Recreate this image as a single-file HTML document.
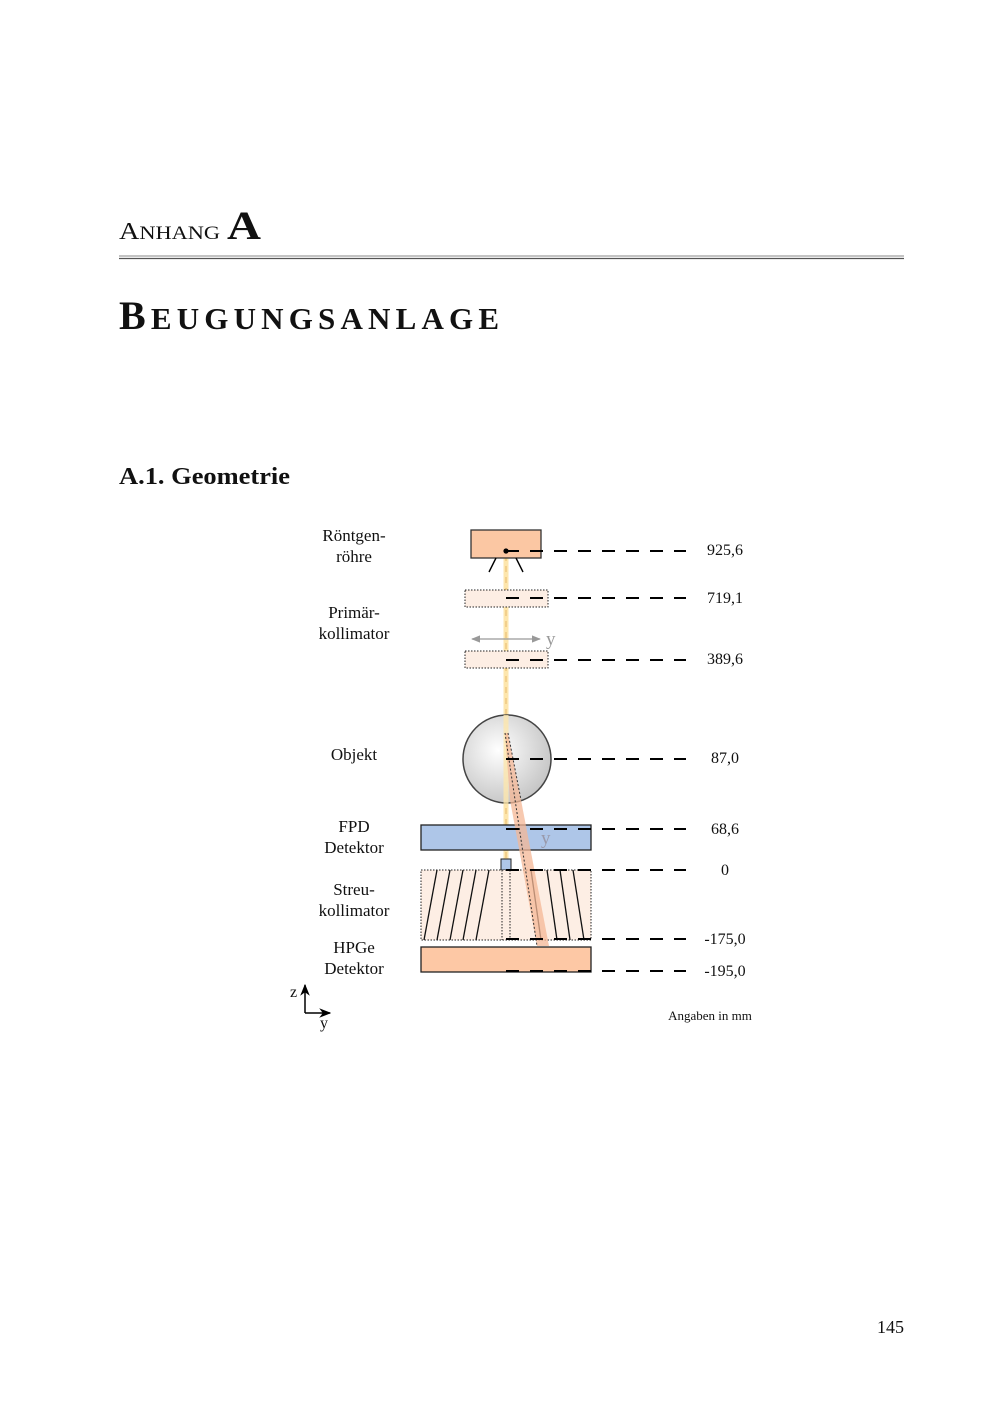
<!DOCTYPE html>
<html><head><meta charset="utf-8"><style>
body{margin:0;background:#fff}
svg{display:block}
text{font-family:"Liberation Serif",serif;fill:#111}
</style></head><body>
<svg width="1000" height="1414" viewBox="0 0 1000 1414">
<defs>
<radialGradient id="g" cx="0.4" cy="0.4" r="0.65"><stop offset="0" stop-color="#ffffff"/><stop offset="1" stop-color="#c4c4c4"/></radialGradient>
<marker id="ah" viewBox="0 0 10 10" refX="9" refY="5" markerWidth="7" markerHeight="7" orient="auto-start-reverse"><path d="M0,1 L10,5 L0,9 z" fill="#999"/></marker>
<marker id="ak" viewBox="0 0 10 10" refX="9" refY="5" markerWidth="8" markerHeight="8" orient="auto"><path d="M0,1 L10,5 L0,9 L3,5 z" fill="#000"/></marker>
</defs>
<text x="119" y="239" font-size="24" textLength="142" lengthAdjust="spacingAndGlyphs">A<tspan font-size="19">NHANG</tspan> <tspan font-size="40" font-weight="bold">A</tspan></text>
<line x1="119" y1="256" x2="904" y2="256" stroke="#888" stroke-width="1"/>
<line x1="119" y1="258.5" x2="904" y2="258.5" stroke="#555" stroke-width="1.2"/>
<text x="119" y="329" font-size="40" font-weight="bold" textLength="380" lengthAdjust="spacing">B<tspan font-size="31">EUGUNGSANLAGE</tspan></text>
<text x="119" y="484" font-size="24" font-weight="bold" textLength="171" lengthAdjust="spacingAndGlyphs">A.1.  Geometrie</text>

<!-- beam -->
<rect x="503.5" y="551" width="5" height="310" fill="#fde6ad"/>
<line x1="506" y1="555" x2="506" y2="860" stroke="#e8b86a" stroke-width="1" stroke-dasharray="6,5"/>
<!-- tube -->
<rect x="471" y="530" width="70" height="28" fill="#fbc7a3" stroke="#333" stroke-width="1.3"/>
<circle cx="506" cy="551" r="2.6" fill="#000"/>
<line x1="496" y1="558" x2="489" y2="572" stroke="#000" stroke-width="1.4"/>
<line x1="516" y1="558" x2="523" y2="572" stroke="#000" stroke-width="1.4"/>
<!-- collimators -->
<rect x="465" y="590" width="83" height="17" fill="#fdeee4" stroke="#222" stroke-dasharray="1.5,1.5"/>
<rect x="465" y="651" width="83" height="17" fill="#fdeee4" stroke="#222" stroke-dasharray="1.5,1.5"/>
<line x1="472" y1="639" x2="540" y2="639" stroke="#999" stroke-width="1.3" marker-start="url(#ah)" marker-end="url(#ah)"/>
<text x="546" y="645" font-size="19" style="fill:#999">y</text>
<!-- sphere -->
<circle cx="507" cy="759" r="44" fill="url(#g)" stroke="#444" stroke-width="1.5"/>
<rect x="503.5" y="715" width="5" height="90" fill="#fde6ad" opacity="0.8"/>
<!-- FPD -->
<rect x="421" y="825" width="170" height="25" fill="#aec6e8" stroke="#222" stroke-width="1.3"/>
<!-- small square -->
<rect x="501" y="859" width="10" height="11" fill="#aec6e8" stroke="#222"/>
<!-- Streu -->
<rect x="421" y="870" width="170" height="70" fill="#fdeee4" stroke="#222" stroke-dasharray="1.5,1.5"/>
<line x1="502" y1="870" x2="502" y2="940" stroke="#222" stroke-dasharray="1.5,1.5"/>
<line x1="510" y1="870" x2="510" y2="940" stroke="#222" stroke-dasharray="1.5,1.5"/>
<g stroke="#111" stroke-width="1.3">
<line x1="437" y1="870" x2="424" y2="940"/>
<line x1="450" y1="870" x2="437" y2="940"/>
<line x1="463" y1="870" x2="450" y2="940"/>
<line x1="476" y1="870" x2="463" y2="940"/>
<line x1="489" y1="870" x2="476" y2="940"/>
<line x1="531" y1="870" x2="541" y2="940"/>
<line x1="547" y1="870" x2="557" y2="940"/>
<line x1="560" y1="870" x2="570" y2="940"/>
<line x1="573" y1="870" x2="584" y2="940"/>
</g>
<!-- HPGe -->
<rect x="421" y="947" width="170" height="25" fill="#fdc8a5" stroke="#222" stroke-width="1.3"/>
<!-- scattered beam -->
<polygon points="505,733 508,733 521,800 549,946 537,946 510,800" fill="#f4b796" opacity="0.75"/>
<line x1="505" y1="733" x2="537" y2="946" stroke="#333" stroke-dasharray="2,2"/>
<line x1="508" y1="733" x2="521" y2="800" stroke="#333" stroke-dasharray="2,2"/>
<text x="541" y="844" font-size="19" style="fill:#99a">y</text>
<!-- dashed level lines -->
<g stroke="#000" stroke-width="2" stroke-dasharray="13,11">
<line x1="506" y1="551" x2="686" y2="551"/>
<line x1="506" y1="598" x2="686" y2="598"/>
<line x1="506" y1="660" x2="686" y2="660"/>
<line x1="506" y1="759" x2="686" y2="759"/>
<line x1="506" y1="829" x2="686" y2="829"/>
<line x1="506" y1="870" x2="686" y2="870"/>
<line x1="506" y1="939" x2="686" y2="939"/>
<line x1="506" y1="971" x2="686" y2="971"/>
</g>
<g font-size="16" text-anchor="middle">
<text x="725" y="555">925,6</text>
<text x="725" y="603">719,1</text>
<text x="725" y="664">389,6</text>
<text x="725" y="763">87,0</text>
<text x="725" y="834">68,6</text>
<text x="725" y="875">0</text>
<text x="725" y="944">-175,0</text>
<text x="725" y="976">-195,0</text>
</g>
<g font-size="17" text-anchor="middle">
<text x="354" y="541">Röntgen-</text>
<text x="354" y="562">röhre</text>
<text x="354" y="618">Primär-</text>
<text x="354" y="639">kollimator</text>
<text x="354" y="760">Objekt</text>
<text x="354" y="832">FPD</text>
<text x="354" y="853">Detektor</text>
<text x="354" y="895">Streu-</text>
<text x="354" y="916">kollimator</text>
<text x="354" y="953">HPGe</text>
<text x="354" y="974">Detektor</text>
</g>
<text x="710" y="1020" font-size="13" text-anchor="middle">Angaben in mm</text>
<!-- axes -->
<line x1="305" y1="1013" x2="305" y2="985" stroke="#000" stroke-width="1.5" marker-end="url(#ak)"/>
<line x1="305" y1="1013" x2="330" y2="1013" stroke="#000" stroke-width="1.5" marker-end="url(#ak)"/>
<text x="290" y="997" font-size="16">z</text>
<text x="320" y="1028" font-size="16">y</text>
<text x="904" y="1333" font-size="18" text-anchor="end">145</text>
</svg>
</body></html>
